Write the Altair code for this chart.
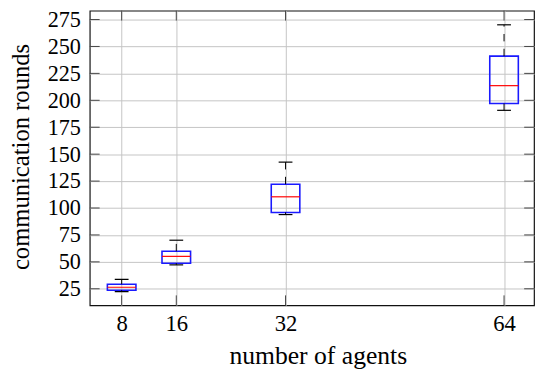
import altair as alt
import pandas as pd

# ---- data ----
agents = [8, 16, 32, 64]
lower = [22.3, 47.2, 93.9, 190.7]
q1 = [23.7, 48.7, 95.9, 197.0]
median = [26.4, 55.1, 110.4, 213.6]
q3 = [29.2, 59.8, 122.1, 241.0]
upper = [33.7, 70.1, 142.6, 270.1]

x_ticks = [8, 16, 32, 64]
y_ticks = [25, 50, 75, 100, 125, 150, 175, 200, 225, 250, 275]

FONT = "Liberation Serif"
W, H = 451, 299

df = pd.DataFrame(dict(agents=agents, lower=lower, q1=q1, median=median, q3=q3, upper=upper))
xt = pd.DataFrame({"v": x_ticks})
yt = pd.DataFrame({"v": y_ticks})

xscale = alt.Scale(domain=[4.05, 67.67], nice=False, zero=False)
yscale = alt.Scale(domain=[9.72, 283.2], nice=False, zero=False)

xaxis = alt.Axis(
    values=x_ticks, title="number of agents", grid=True, gridColor="#c4c4c4", gridWidth=1,
    domain=False, ticks=False, tickSize=0, labelFont=FONT, labelFontSize=23, labelColor="black",
    labelPadding=8, labelBaseline="top", labelFlush=False, labelOverlap=False,
    titleFont=FONT, titleFontSize=26, titleFontWeight="normal", titleColor="black",
    titleX=231.5, titleY=59, titleBaseline="alphabetic", titleAlign="center",
)
yaxis = alt.Axis(
    values=y_ticks, title="communication rounds", grid=True, gridColor="#c4c4c4", gridWidth=1,
    domain=False, ticks=False, tickSize=0, labelFont=FONT, labelFontSize=22.5, labelColor="black",
    labelPadding=9.5, labelBaseline="middle", labelFlush=False, labelOverlap=False,
    titleFont=FONT, titleFontSize=25, titleFontWeight="normal", titleColor="black",
    titleX=-62, titleY=148, titleBaseline="alphabetic", titleAlign="center", titleAngle=270,
)

X = lambda f: alt.X(f, type="quantitative", scale=xscale, axis=xaxis)
Y = lambda f: alt.Y(f, type="quantitative", scale=yscale, axis=yaxis)

base = alt.Chart(df)

boxes = base.mark_bar(size=29, fillOpacity=0, stroke="#1a1aff", strokeWidth=1.6).encode(
    x=X("agents"), y=Y("q1"), y2="q3"
)
whisk_up = base.mark_rule(color="black", strokeWidth=1, strokeDash=[7.5, 7.5]).encode(
    x=X("agents"), y=Y("q3"), y2="upper"
)
whisk_lo = base.mark_rule(color="black", strokeWidth=1).encode(
    x=X("agents"), y=Y("q1"), y2="lower"
)
cap_up = base.mark_tick(orient="horizontal", size=14, thickness=1.2, color="black", opacity=1).encode(
    x=X("agents"), y=Y("upper")
)
cap_lo = base.mark_tick(orient="horizontal", size=14, thickness=1.2, color="black", opacity=1).encode(
    x=X("agents"), y=Y("lower")
)
med = base.mark_tick(orient="horizontal", size=29, thickness=1.2, color="#ff0000", opacity=1).encode(
    x=X("agents"), y=Y("median")
)

TC = "#444444"
ytick_l = alt.Chart(yt).mark_rule(color=TC, strokeWidth=1).encode(
    y=Y("v"), x=alt.value(0), x2=alt.value(10))
ytick_r = alt.Chart(yt).mark_rule(color=TC, strokeWidth=1).encode(
    y=Y("v"), x=alt.value(W - 10), x2=alt.value(W))
xtick_b = alt.Chart(xt).mark_rule(color=TC, strokeWidth=1).encode(
    x=X("v"), y=alt.value(H - 10), y2=alt.value(H))
xtick_t = alt.Chart(xt).mark_rule(color=TC, strokeWidth=1).encode(
    x=X("v"), y=alt.value(0), y2=alt.value(10))

chart = alt.layer(
    ytick_l, ytick_r, xtick_b, xtick_t, boxes, whisk_up, whisk_lo, cap_up, cap_lo, med
).properties(
    width=W, height=H,
    autosize=alt.AutoSizeParams(type="none"),
    padding={"left": 83, "top": 0, "right": 2, "bottom": 63},
    background="white",
).configure_view(
    stroke="#111111", strokeWidth=1.2
).configure_axis(
    labelFont=FONT, titleFont=FONT, labelColor="black", titleColor="black"
)

chart.save("out.html", embed_options={"renderer": "svg", "actions": False})
